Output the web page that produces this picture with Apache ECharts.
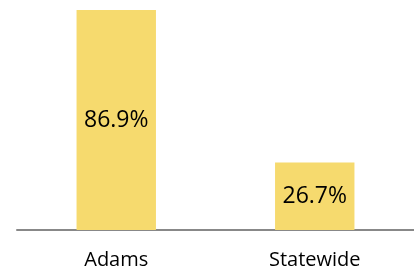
<!DOCTYPE html>
<html lang="en">
<head>
<meta charset="UTF-8">
<title>Adams vs Statewide</title>
<style>
    body { margin: 0; padding: 0; background: #fff; }
    #chart { width: 414px; height: 272px; }
</style>
</head>
<body>
<script src="https://cdn.jsdelivr.net/npm/echarts/dist/echarts.min.js"></script>
<div id="chart"></div>
<script>
// 数据
var categories = ['Adams', 'Statewide'];
var values = [86.9, 26.7];

var myChart = echarts.init(document.getElementById('chart'));

var option = {
    animation: false,
    grid: { left: 17, right: 0, top: 10, bottom: 42 },
    xAxis: {
        type: 'category',
        data: categories,
        axisTick: { show: false },
        axisLine: { lineStyle: { color: '#888888', width: 2 } },
        axisLabel: {
            color: '#000',
            fontFamily: 'Open Sans',
            fontSize: 20,
            margin: 20
        }
    },
    yAxis: {
        type: 'value',
        min: 0,
        max: 86.9,
        show: false,
        splitLine: { show: false }
    },
    series: [{
        type: 'bar',
        data: values,
        barWidth: '40%',
        itemStyle: { color: '#F6DA6E' },
        label: {
            show: true,
            position: 'inside',
            color: '#000',
            fontFamily: 'Open Sans',
            fontSize: 23,
            formatter: function (p) { return p.value.toFixed(1) + '%'; }
        }
    }]
};

myChart.setOption(option);
</script>
</body>
</html>
